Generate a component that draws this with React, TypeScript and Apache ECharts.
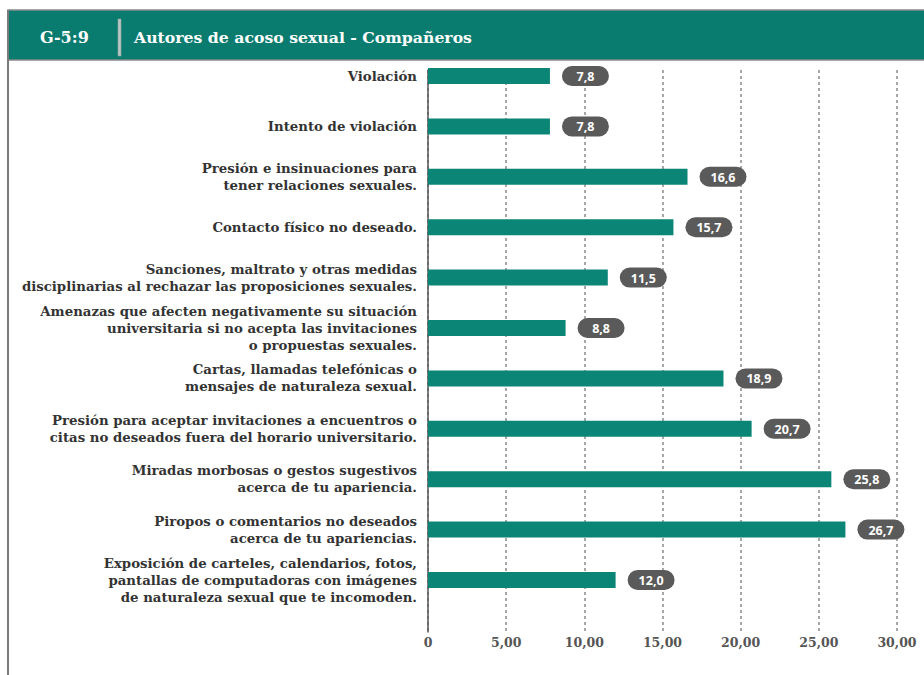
import React, { useEffect, useRef } from "react";
import * as echarts from "echarts";

const categories: string[] = [
  "Violación",
  "Intento de violación",
  "Presión e insinuaciones para\ntener relaciones sexuales.",
  "Contacto físico no deseado.",
  "Sanciones, maltrato y otras medidas\ndisciplinarias al rechazar las proposiciones sexuales.",
  "Amenazas que afecten negativamente su situación\nuniversitaria si no acepta las invitaciones\no propuestas sexuales.",
  "Cartas, llamadas telefónicas o\nmensajes de naturaleza sexual.",
  "Presión para aceptar invitaciones a encuentros o\ncitas no deseados fuera del horario universitario.",
  "Miradas morbosas o gestos sugestivos\nacerca de tu apariencia.",
  "Piropos o comentarios no deseados\nacerca de tu apariencias.",
  "Exposición de carteles, calendarios, fotos,\npantallas de computadoras con imágenes\nde naturaleza sexual que te incomoden.",
];

const values: number[] = [7.8, 7.8, 16.6, 15.7, 11.5, 8.8, 18.9, 20.7, 25.8, 26.7, 12.0];

const chartCode = "G-5:9";
const chartTitle = "Autores de acoso sexual - Compañeros";

const SERIF = "'DejaVu Serif', 'Liberation Serif', serif";

export default function App() {
  const ref = useRef<HTMLDivElement>(null);
  useEffect(() => {
    if (!ref.current) return;
    const chart = echarts.init(ref.current, null, { renderer: "svg" });
    chart.setOption({
      animation: false,
      backgroundColor: "#ffffff",
      grid: [
        // grid 0: bars + category labels
        { left: 428, right: 27, top: 50.8, bottom: 69.8, containLabel: false },
        // grid 1: frame axes (gridlines, value labels, vertical axis line)
        { left: 428, right: 27, top: 70, bottom: 43, containLabel: false },
      ],
      xAxis: [
        {
          gridIndex: 0,
          type: "value",
          min: 0,
          max: 30,
          interval: 5,
          show: false,
        },
        {
          gridIndex: 1,
          type: "value",
          min: 0,
          max: 30,
          interval: 5,
          axisLine: { show: false },
          axisTick: { show: false },
          splitLine: {
            show: true,
            lineStyle: { color: "#8a8a8a", type: [3, 3], width: 1.5 },
          },
          axisLabel: {
            margin: 4,
            color: "#555555",
            fontFamily: SERIF,
            fontWeight: "bold",
            fontSize: 12.5,
            formatter: (v: number) =>
              v === 0 ? "0" : v.toFixed(2).replace(".", ","),
          },
        },
      ],
      yAxis: [
        {
          gridIndex: 0,
          type: "category",
          inverse: true,
          data: categories,
          axisLine: { show: false },
          axisTick: { show: false },
          splitLine: { show: false },
          axisLabel: {
            margin: 11,
            color: "#333333",
            fontFamily: SERIF,
            fontWeight: "bold",
            fontSize: 13.3,
            lineHeight: 17,
            align: "right",
          },
        },
        {
          gridIndex: 1,
          type: "value",
          min: 0,
          max: 1,
          axisLine: { show: true, lineStyle: { color: "#555555", width: 1.5 } },
          axisTick: { show: false },
          axisLabel: { show: false },
          splitLine: { show: false },
        },
      ],
      series: [
        {
          type: "bar",
          xAxisIndex: 0,
          yAxisIndex: 0,
          data: values,
          barWidth: 16,
          z: 3,
          itemStyle: { color: "#0b8576" },
          label: {
            show: true,
            position: "right",
            distance: 12,
            formatter: (p: any) =>
              "{v|" + Number(p.value).toFixed(1).replace(".", ",") + "}",
            backgroundColor: "#5a5a5a",
            borderRadius: 10,
            padding: [4, 8, 3, 8],
            rich: {
              v: {
                width: 31,
                align: "center",
                color: "#ffffff",
                fontFamily: "'Open Sans', 'Noto Sans', sans-serif",
                fontWeight: "bold",
                fontSize: 12.5,
              },
            },
          },
        },
      ],
      graphic: [
        {
          type: "line",
          shape: { x1: 8, y1: 10, x2: 8, y2: 675 },
          style: { stroke: "#7a7a7a", lineWidth: 2 },
          z: 10,
        },
        {
          type: "rect",
          shape: { x: 8, y: 10, width: 920, height: 50 },
          style: { fill: "#0a7b6f", stroke: "#8a8a8a", lineWidth: 1.5 },
          z: 9,
        },
        {
          type: "rect",
          shape: { x: 118, y: 19, width: 3, height: 37 },
          style: { fill: "#b9c6c3", stroke: "#8fa39f", lineWidth: 0.6 },
          z: 11,
        },
        {
          type: "text",
          x: 40,
          y: 37,
          style: {
            text: chartCode,
            fill: "#ffffff",
            font: `bold 16px ${SERIF}`,
            verticalAlign: "middle",
          },
          z: 11,
        },
        {
          type: "text",
          x: 134,
          y: 37,
          style: {
            text: chartTitle,
            fill: "#ffffff",
            font: `bold 15.7px ${SERIF}`,
            verticalAlign: "middle",
          },
          z: 11,
        },
      ],
    });
    return () => chart.dispose();
  }, []);
  return (
    <div
      ref={ref}
      style={{ position: "absolute", left: 0, top: 0, width: 924, height: 675 }}
    />
  );
}
